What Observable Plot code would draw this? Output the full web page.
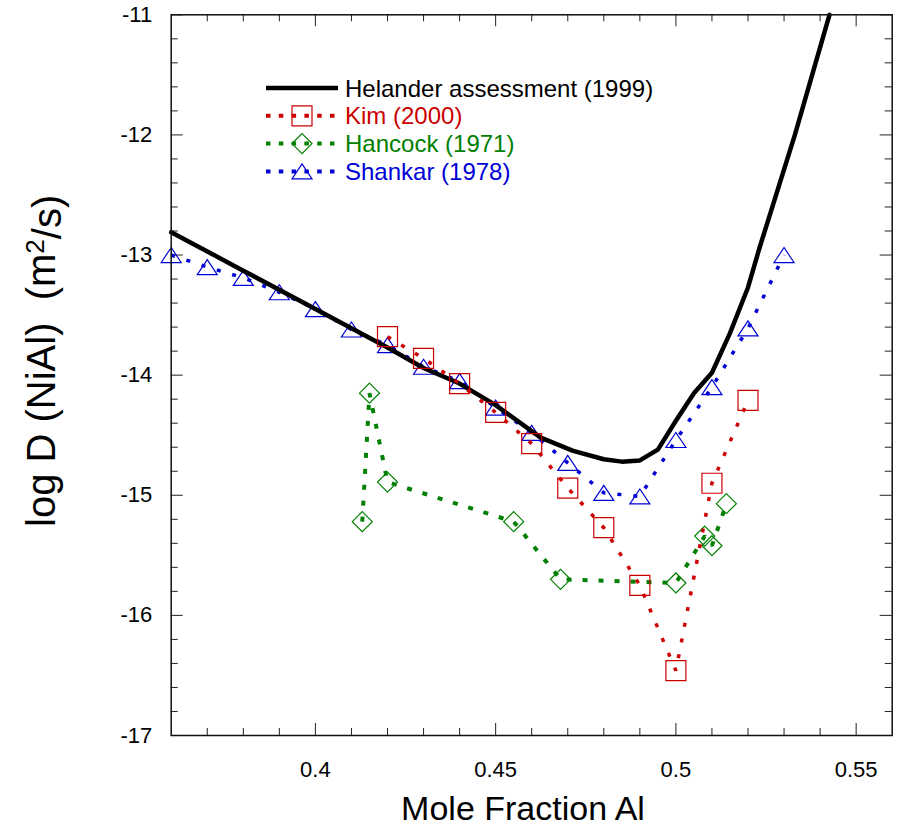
<!DOCTYPE html>
<html>
<head>
<meta charset="utf-8">
<script src="https://cdn.jsdelivr.net/npm/d3@7"></script>
<script src="https://cdn.jsdelivr.net/npm/@observablehq/plot@0.6"></script>
<style>
html, body { margin: 0; padding: 0; background: #fff; }
#chart { width: 900px; height: 829px; }
</style>
</head>
<body>
<div id="chart"></div>
<script>
// ---- tick values ----
const xMajorTicks = [0.4, 0.45, 0.5, 0.55];
const xMinorTicks = [0.37, 0.38, 0.39, 0.41, 0.42, 0.43, 0.44, 0.46, 0.47, 0.48, 0.49, 0.51, 0.52, 0.53, 0.54];
const yMajorTicks = [-17, -16, -15, -14, -13, -12, -11];
const yMinorTicks = [-16.8, -16.6, -16.4, -16.2, -15.8, -15.6, -15.4, -15.2, -14.8, -14.6, -14.4, -14.2,
                     -13.8, -13.6, -13.4, -13.2, -12.8, -12.6, -12.4, -12.2, -11.8, -11.6, -11.4, -11.2];

// ---- series names ----
const seriesNames = ["Helander assessment (1999)", "Kim (2000)", "Hancock (1971)", "Shankar (1978)"];

// ---- Helander assessment (1999) ----
const helanderX = [0.36, 0.38, 0.40, 0.42, 0.43, 0.44, 0.45, 0.4625, 0.4715, 0.48, 0.485, 0.49, 0.495,
                   0.50, 0.505, 0.51, 0.515, 0.52, 0.523, 0.533, 0.5426];
const helanderY = [-12.81, -13.13, -13.45, -13.77, -13.94, -14.07, -14.25, -14.52, -14.63, -14.70, -14.72, -14.71, -14.62,
                   -14.38, -14.15, -13.98, -13.65, -13.27, -12.96, -12.0, -11.0];

// ---- Kim (2000) ----
const kimX = [0.42, 0.43, 0.44, 0.45, 0.46, 0.47, 0.48, 0.49, 0.50, 0.51, 0.52];
const kimY = [-13.68, -13.86, -14.07, -14.31, -14.57, -14.94, -15.27, -15.75, -16.46, -14.90, -14.21];

// ---- Hancock (1971) ----
const hancockX = [0.413, 0.415, 0.420, 0.455, 0.468, 0.500, 0.508, 0.510, 0.514];
const hancockY = [-15.22, -14.15, -14.89, -15.22, -15.70, -15.73, -15.34, -15.42, -15.07];

// ---- Shankar (1978) ----
const shankarX = [0.36, 0.37, 0.38, 0.39, 0.40, 0.41, 0.42, 0.43, 0.44, 0.45, 0.46, 0.47, 0.48, 0.49, 0.50, 0.51, 0.52, 0.53];
const shankarY = [-13.00, -13.10, -13.19, -13.31, -13.45, -13.62, -13.75, -13.93, -14.05, -14.27, -14.48, -14.73,
                  -14.98, -15.01, -14.54, -14.10, -13.61, -13.00];

// ---- colours ----
const colBlack = "#000000", colRed = "#cc0000", colGreen = "#008000", colBlue = "#0000d6";

const toRows = (xs, ys) => xs.map((x, i) => ({x, y: ys[i]}));
const helander = toRows(helanderX, helanderY);
const kim = toRows(kimX, kimY);
const hancock = toRows(hancockX, hancockY);
const shankar = toRows(shankarX, shankarY);

// custom hollow symbols (r = half-width)
const squareSym = {draw(ctx, size) { const s = Math.sqrt(size / Math.PI); ctx.moveTo(-s, -s); ctx.lineTo(s, -s); ctx.lineTo(s, s); ctx.lineTo(-s, s); ctx.closePath(); }};
const diamondSym = {draw(ctx, size) { const s = Math.sqrt(size / Math.PI); ctx.moveTo(0, -s); ctx.lineTo(s, 0); ctx.lineTo(0, s); ctx.lineTo(-s, 0); ctx.closePath(); }};
const triangleSym = {draw(ctx, size) { const s = Math.sqrt(size / Math.PI); ctx.moveTo(0, -0.75 * s); ctx.lineTo(s, 0.75 * s); ctx.lineTo(-s, 0.75 * s); ctx.closePath(); }};

const W = 900, H = 829;
const mL = 170.7, mR = 8.3, mT = 14.3, mB = 94;
const innerW = W - mL - mR, innerH = H - mT - mB;
const tickCol = "#222";

const dotted = {strokeLinecap: "butt", strokeLinejoin: "miter"};

const plot = Plot.plot({
  width: W, height: H,
  marginLeft: mL, marginRight: mR, marginTop: mT, marginBottom: mB,
  style: {fontFamily: "'Liberation Sans', Arial, Helvetica, sans-serif", fontSize: "22px", background: "#fff", color: "#000"},
  x: {domain: [0.36, 0.56], ticks: xMajorTicks, tickFormat: d => String(d), tickSize: 0, tickPadding: 26, label: null},
  y: {domain: [-17, -11], ticks: yMajorTicks, tickFormat: d => String(d), tickSize: 0, tickPadding: 19, label: null},
  marks: [
    // inward ticks
    Plot.tickX(xMinorTicks, {x: d => d, insetTop: innerH - 7, stroke: tickCol}),
    Plot.tickX(xMinorTicks, {x: d => d, insetBottom: innerH - 7, stroke: tickCol}),
    Plot.tickX(xMajorTicks, {x: d => d, insetTop: innerH - 12, stroke: tickCol}),
    Plot.tickX(xMajorTicks, {x: d => d, insetBottom: innerH - 12, stroke: tickCol}),
    Plot.tickY(yMinorTicks, {y: d => d, insetRight: innerW - 7, stroke: tickCol}),
    Plot.tickY(yMinorTicks, {y: d => d, insetLeft: innerW - 7, stroke: tickCol}),
    Plot.tickY(yMajorTicks, {y: d => d, insetRight: innerW - 12, stroke: tickCol}),
    Plot.tickY(yMajorTicks, {y: d => d, insetLeft: innerW - 12, stroke: tickCol}),
    // series
    Plot.line(shankar, {x: "x", y: "y", stroke: colBlue, strokeWidth: 3.5, strokeDasharray: "4,12", ...dotted}),
    Plot.dot(shankar, {x: "x", y: "y", symbol: triangleSym, r: 10, stroke: colBlue, fill: "none", strokeWidth: 1.2}),
    Plot.line(helander, {x: "x", y: "y", stroke: colBlack, strokeWidth: 4.5}),
    Plot.line(hancock, {x: "x", y: "y", stroke: colGreen, strokeWidth: 4, strokeDasharray: "5,11", ...dotted}),
    Plot.dot(hancock, {x: "x", y: "y", symbol: diamondSym, r: 10, stroke: colGreen, fill: "none", strokeWidth: 1.2}),
    Plot.line(kim, {x: "x", y: "y", stroke: colRed, strokeWidth: 3.5, strokeDasharray: "4,12", ...dotted}),
    Plot.dot(kim, {x: "x", y: "y", symbol: squareSym, r: 10, stroke: colRed, fill: "none", strokeWidth: 1.2}),
    Plot.frame({stroke: "#111", strokeWidth: 1.5})
  ]
});

document.getElementById("chart").appendChild(plot);

const svg = d3.select(plot);
const font = "'Liberation Sans', Arial, Helvetica, sans-serif";

// axis titles
svg.append("text")
  .attr("x", 523).attr("y", 820)
  .attr("text-anchor", "middle")
  .style("font-family", font).style("font-size", "34px").attr("fill", "#000")
  .text("Mole Fraction Al");

const yt = svg.append("text")
  .attr("transform", "translate(55,527) rotate(-90)")
  .attr("text-anchor", "start")
  .style("font-family", font).style("font-size", "40px").style("white-space", "pre").attr("fill", "#000");
yt.append("tspan").text("log D (NiAl)  (m");
yt.append("tspan").attr("dy", "-0.42em").style("font-size", "26px").text("2");
yt.append("tspan").attr("dy", "0.42em").text("/s)");

// legend
const legendItems = [
  {name: seriesNames[0], color: colBlack, width: 4.5, dash: null, sym: null},
  {name: seriesNames[1], color: colRed, width: 4, dash: "4.5,8.3", sym: squareSym},
  {name: seriesNames[2], color: colGreen, width: 4, dash: "4.5,8.3", sym: diamondSym},
  {name: seriesNames[3], color: colBlue, width: 4, dash: "4.5,8.3", sym: triangleSym}
];
const lg = svg.append("g").attr("text-anchor", "start");
legendItems.forEach((it, i) => {
  const cy = 88 + i * 27.8;
  lg.append("line").attr("x1", 266).attr("x2", 338).attr("y1", cy).attr("y2", cy)
    .attr("stroke", it.color).attr("stroke-width", it.width)
    .attr("stroke-dasharray", it.dash).attr("stroke-linecap", "butt");
  if (it.sym) {
    lg.append("path").attr("transform", `translate(302,${cy})`)
      .attr("d", d3.symbol(it.sym, 100 * Math.PI)())
      .attr("fill", "none").attr("stroke", it.color).attr("stroke-width", 1.2);
  }
  lg.append("text").attr("x", 345).attr("y", cy + 8.6)
    .attr("text-anchor", "start")
    .style("font-family", font).style("font-size", "24px")
    .attr("fill", it.color).text(it.name);
});
</script>
</body>
</html>
